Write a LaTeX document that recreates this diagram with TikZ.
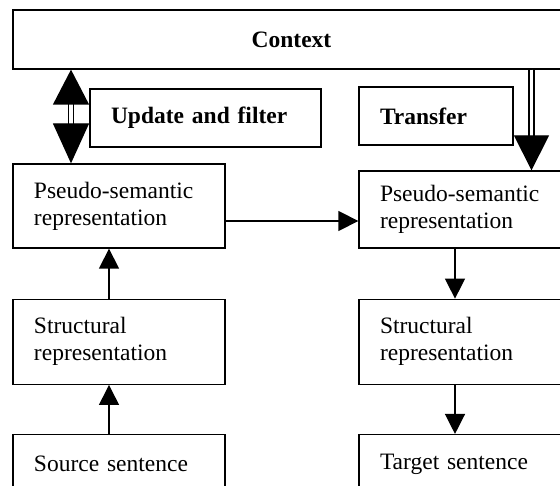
\documentclass[tikz,border=0pt]{standalone}
\usepackage{fontspec}
\setmainfont{Liberation Serif}
\usetikzlibrary{arrows.meta,positioning}

\begin{document}
\begin{tikzpicture}[x=1pt,y=-1pt,
    txt/.style={font=\fontsize{23.5}{27}\selectfont},
    bold/.style={font=\fontsize{23.5}{27}\selectfont\bfseries},
    box/.style={draw, line width=1.3pt, inner xsep=21pt, inner ysep=0pt,
      align=left, text width=170pt, txt},
    arr/.style={line width=1.3pt, -{Triangle[length=20pt,width=20pt]}},
    dbl/.style={line width=1.3pt, double, double distance=3.5pt}]

  \clip (0,0) rectangle (560,486);

  % top row
  \node[box, bold, align=center, text width=515pt, minimum height=59pt]
    (ctx) at (291.5,39.5) {Context};
  \node[box, bold, text width=189pt, minimum height=58pt]
    (upd) at (205.5,118) {Update and filter};
  \node[box, bold, text width=112pt, minimum height=58pt]
    (trf) at (436,116) {Transfer};

  % source side
  \node[box, minimum height=84pt] (psl) at (119,206)
    {Pseudo-semantic\\representation};
  \node[box, minimum height=85pt, below=50pt of psl] (stl)
    {Structural\\representation};
  \node[box, minimum height=59pt, below=49pt of stl] (srcl)
    {Source sentence};

  % target side
  \node[box, minimum height=77pt] (psr) at (465,209.5)
    {Pseudo-semantic\\representation};
  \node[box, minimum height=85pt, below=50pt of psr] (str)
    {Structural\\representation};
  \node[box, minimum height=59pt, below=49pt of str] (tgt)
    {Target sentence};

  \coordinate (dlx) at (71,0);
  \coordinate (drx) at (531.5,0);

  % context links
  \draw[dbl, {Triangle[length=35pt,width=36pt]}-{Triangle[length=40pt,width=36pt]}]
    (ctx.south -| dlx) -- (psl.north -| dlx);
  \draw[dbl, -{Triangle[length=35pt,width=35pt]}]
    (ctx.south -| drx) -- (psr.north -| drx);

  % analysis and generation
  \draw[arr] ([xshift=-10pt]srcl.north) -- ([xshift=-10pt]stl.south);
  \draw[arr] ([xshift=-10pt]stl.north) -- ([xshift=-10pt]psl.south);
  \draw[arr] ([yshift=-15pt]psl.east) -- ([yshift=-15pt]psl.east -| psr.west);
  \draw[arr] ([xshift=-10pt]psr.south) -- ([xshift=-10pt]str.north);
  \draw[arr] ([xshift=-10pt]str.south) -- ([xshift=-10pt]tgt.north);

\end{tikzpicture}
\end{document}
